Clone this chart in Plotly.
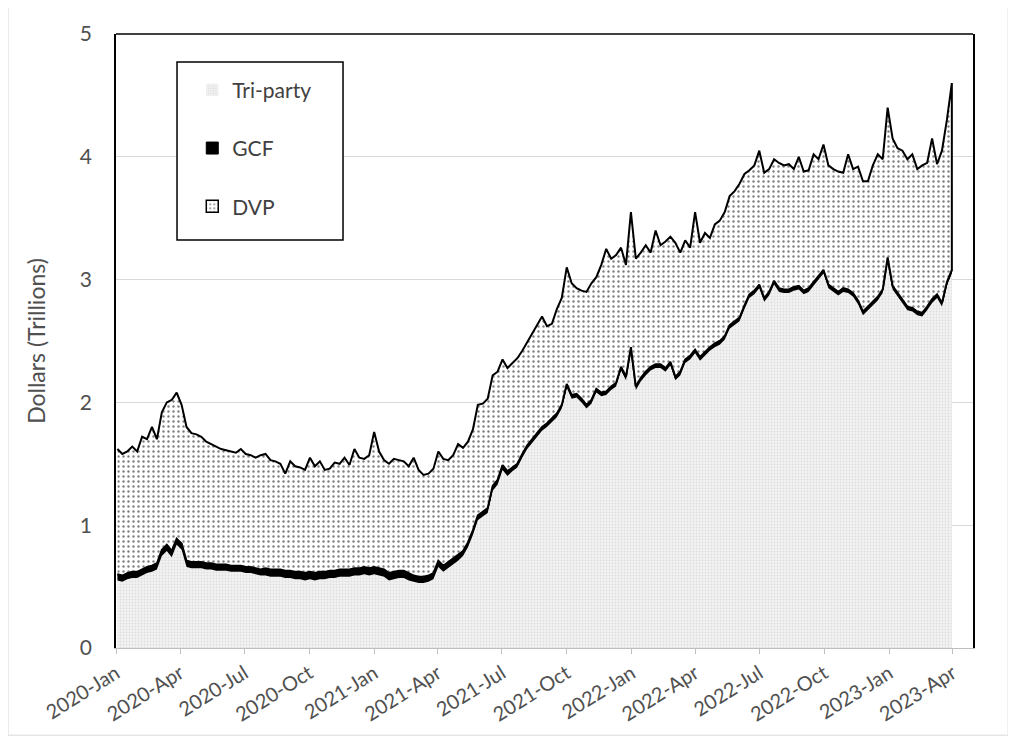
import pandas as pd
import plotly.graph_objects as go

# Weekly observation dates (Fridays), Jan 2020 - Mar 2023
week_ending = pd.date_range("2020-01-03", periods=170, freq="7D")

# Tri-party volume (trillions $)
tri_party = [
    0.55, 0.54, 0.56, 0.57, 0.57, 0.59, 0.61, 0.62, 0.64, 0.75,
    0.79, 0.74, 0.84, 0.80, 0.66, 0.65, 0.65, 0.65, 0.64, 0.64,
    0.63, 0.63, 0.63, 0.62, 0.62, 0.62, 0.61, 0.61, 0.60, 0.59,
    0.59, 0.58, 0.58, 0.58, 0.57, 0.57, 0.56, 0.56, 0.55, 0.56,
    0.55, 0.56, 0.56, 0.57, 0.57, 0.58, 0.58, 0.58, 0.59, 0.59,
    0.60, 0.59, 0.60, 0.59, 0.58, 0.55, 0.56, 0.57, 0.57, 0.55,
    0.54, 0.53, 0.53, 0.54, 0.56, 0.66, 0.62, 0.65, 0.68, 0.71,
    0.75, 0.82, 0.92, 1.04, 1.07, 1.10, 1.28, 1.33, 1.45, 1.40,
    1.44, 1.47, 1.55, 1.62, 1.67, 1.72, 1.77, 1.80, 1.84, 1.88,
    1.95, 2.12, 2.03, 2.04, 2.00, 1.95, 1.99, 2.08, 2.05, 2.06,
    2.10, 2.13, 2.26, 2.18, 2.42, 2.10, 2.17, 2.22, 2.26, 2.28,
    2.28, 2.25, 2.30, 2.18, 2.22, 2.32, 2.35, 2.40, 2.34, 2.38,
    2.42, 2.45, 2.47, 2.51, 2.60, 2.63, 2.66, 2.76, 2.85, 2.88,
    2.93, 2.82, 2.87, 2.96, 2.90, 2.89, 2.89, 2.91, 2.92, 2.88,
    2.90, 2.95, 3.00, 3.05, 2.93, 2.90, 2.87, 2.90, 2.89, 2.86,
    2.80, 2.71, 2.75, 2.79, 2.83, 2.89, 3.15, 2.92, 2.86, 2.81,
    2.75, 2.74, 2.71, 2.70, 2.75, 2.81, 2.85, 2.78, 2.95, 3.05,
]

# GCF volume (trillions $), thin band on top of tri-party
gcf = [
    0.05, 0.05, 0.05, 0.05, 0.05, 0.05, 0.05, 0.05, 0.05, 0.05,
    0.05, 0.05, 0.05, 0.05, 0.05, 0.05, 0.05, 0.05, 0.05, 0.05,
    0.05, 0.05, 0.05, 0.05, 0.05, 0.05, 0.05, 0.05, 0.05, 0.05,
    0.06, 0.06, 0.06, 0.06, 0.06, 0.06, 0.06, 0.06, 0.06, 0.06,
    0.06, 0.06, 0.06, 0.06, 0.06, 0.06, 0.06, 0.06, 0.06, 0.06,
    0.06, 0.06, 0.06, 0.06, 0.06, 0.06, 0.06, 0.06, 0.06, 0.06,
    0.05, 0.05, 0.05, 0.05, 0.05, 0.05, 0.05, 0.05, 0.05, 0.05,
    0.04, 0.04, 0.04, 0.04, 0.04, 0.04, 0.04, 0.04, 0.04, 0.04,
    0.03, 0.03, 0.03, 0.03, 0.03, 0.03, 0.03, 0.03, 0.03, 0.03,
    0.03, 0.03, 0.03, 0.03, 0.03, 0.03, 0.03, 0.03, 0.03, 0.03,
    0.03, 0.03, 0.03, 0.03, 0.03, 0.03, 0.03, 0.03, 0.03, 0.03,
    0.03, 0.03, 0.03, 0.03, 0.03, 0.03, 0.03, 0.03, 0.03, 0.03,
    0.03, 0.03, 0.03, 0.03, 0.03, 0.03, 0.03, 0.03, 0.03, 0.03,
    0.03, 0.03, 0.03, 0.03, 0.03, 0.03, 0.03, 0.03, 0.03, 0.03,
    0.03, 0.03, 0.03, 0.03, 0.03, 0.03, 0.03, 0.03, 0.03, 0.03,
    0.03, 0.03, 0.03, 0.03, 0.03, 0.03, 0.03, 0.03, 0.03, 0.03,
    0.03, 0.03, 0.03, 0.03, 0.03, 0.03, 0.03, 0.03, 0.03, 0.03,
]

# Total of all three segments (top edge of DVP), trillions $
total = [
    1.62, 1.58, 1.60, 1.64, 1.60, 1.72, 1.70, 1.80, 1.70, 1.92,
    2.00, 2.02, 2.08, 1.98, 1.80, 1.75, 1.74, 1.72, 1.68, 1.66,
    1.64, 1.62, 1.61, 1.60, 1.59, 1.62, 1.58, 1.57, 1.55, 1.57,
    1.58, 1.53, 1.52, 1.50, 1.42, 1.52, 1.48, 1.47, 1.45, 1.55,
    1.48, 1.52, 1.45, 1.46, 1.51, 1.50, 1.55, 1.49, 1.62, 1.55,
    1.54, 1.57, 1.76, 1.60, 1.53, 1.50, 1.54, 1.53, 1.52, 1.48,
    1.55, 1.45, 1.41, 1.42, 1.46, 1.60, 1.54, 1.53, 1.57, 1.66,
    1.63, 1.68, 1.78, 1.98, 1.99, 2.03, 2.22, 2.25, 2.35, 2.28,
    2.32, 2.36, 2.42, 2.49, 2.56, 2.62, 2.70, 2.62, 2.64, 2.76,
    2.85, 3.10, 2.97, 2.93, 2.91, 2.90, 2.97, 3.02, 3.12, 3.25,
    3.17, 3.20, 3.26, 3.12, 3.55, 3.17, 3.22, 3.28, 3.22, 3.40,
    3.28, 3.31, 3.35, 3.30, 3.22, 3.32, 3.26, 3.55, 3.30, 3.38,
    3.34, 3.45, 3.48, 3.55, 3.68, 3.72, 3.78, 3.86, 3.89, 3.93,
    4.05, 3.87, 3.90, 3.98, 3.95, 3.93, 3.94, 3.90, 4.00, 3.88,
    3.89, 4.02, 3.98, 4.10, 3.93, 3.90, 3.88, 3.87, 4.02, 3.90,
    3.92, 3.80, 3.80, 3.93, 4.02, 3.98, 4.40, 4.15, 4.07, 4.05,
    3.98, 4.02, 3.90, 3.93, 3.95, 4.15, 3.94, 4.05, 4.30, 4.60,
]

series_names = ["Tri-party", "GCF", "DVP"]

dates = list(week_ending)
tri_gcf = [t + g for t, g in zip(tri_party, gcf)]

TRI_PATTERN = dict(shape=".", fgcolor="#c8c8c8", bgcolor="#f3f3f3", size=3, solidity=0.3)
DVP_PATTERN = dict(shape=".", fgcolor="black", bgcolor="white", size=5, solidity=0.18)

fig = go.Figure()

fig.add_trace(go.Scatter(
    x=dates, y=tri_party, name=series_names[0], mode="lines",
    line=dict(width=0, color="#d0d0d0"),
    fill="tozeroy", fillcolor="#ececec", fillpattern=TRI_PATTERN,
    showlegend=False, hoverinfo="skip",
))

fig.add_trace(go.Scatter(
    x=dates, y=tri_gcf, name=series_names[1], mode="lines",
    line=dict(width=2, color="black"),
    fill="tonexty", fillcolor="black",
    showlegend=False, hoverinfo="skip",
))

# DVP band as a closed region between the GCF top and the total
poly_x = dates + dates[::-1]
poly_y = total + tri_gcf[::-1]
fig.add_trace(go.Scatter(
    x=poly_x, y=poly_y, name=series_names[2], mode="lines",
    line=dict(width=2, color="black"),
    fill="toself", fillcolor="white", fillpattern=DVP_PATTERN,
    showlegend=False, hoverinfo="skip",
))

# Legend swatches (square keys, no data drawn)
legend_styles = [
    dict(color="#e6e6e6", pattern=TRI_PATTERN, line=dict(width=0)),
    dict(color="black", line=dict(color="black", width=1)),
    dict(color="white", pattern=DVP_PATTERN, line=dict(color="black", width=1.5)),
]
for i, (nm, mk) in enumerate(zip(series_names, legend_styles)):
    fig.add_trace(go.Bar(
        x=[None], y=[None], name=nm, marker=mk,
        legendgroup=f"g{i}", showlegend=True, hoverinfo="skip",
    ))

fig.update_layout(
    width=1016, height=740,
    margin=dict(l=108, r=51, t=26, b=100),
    paper_bgcolor="white", plot_bgcolor="white",
    font=dict(family="Lato, 'Open Sans', sans-serif", color="#505050"),
    showlegend=True,
    legend=dict(
        x=0.089, y=0.942, xanchor="left", yanchor="top",
        bgcolor="rgba(0,0,0,0)", borderwidth=0,
        font=dict(size=21, color="#404040"),
        traceorder="grouped", tracegroupgap=28,
        itemwidth=30,
    ),
    xaxis=dict(
        type="date", range=["2020-01-01", "2023-04-30"],
        tick0="2020-01-01", dtick="M3", tickformat="%Y-%b",
        tickangle=-32, ticks="outside", ticklen=5, tickcolor="#bfbfbf",
        showline=True, linecolor="#bfbfbf", linewidth=1,
        showgrid=False, zeroline=False,
        tickfont=dict(size=20, color="#505050"),
    ),
    yaxis=dict(
        range=[0, 5], dtick=1, showgrid=True, gridcolor="#d9d9d9", gridwidth=1,
        showline=True, linecolor="black", linewidth=1.5, mirror=True,
        ticks="", zeroline=False,
        tickfont=dict(size=21, color="#505050"),
        ticklabelstandoff=18,
        title=dict(text="Dollars (Trillions)", font=dict(size=23, color="#505050"), standoff=28),
    ),
    shapes=[
        dict(type="line", xref="paper", yref="paper", x0=0, x1=1, y0=1, y1=1,
             line=dict(color="black", width=1.5)),
        dict(type="rect", xref="paper", yref="paper", x0=-0.126, x1=1.041, y0=-0.142, y1=1.047,
             line=dict(color="#d9d9d9", width=1), layer="below"),
        # legend frame
        dict(type="rect", xref="paper", yref="paper", x0=0.0712, x1=0.2649, y0=0.6645, y1=0.9544,
             line=dict(color="black", width=1.5), fillcolor="white", layer="above"),
    ],
)

fig.write_html("out.html")
